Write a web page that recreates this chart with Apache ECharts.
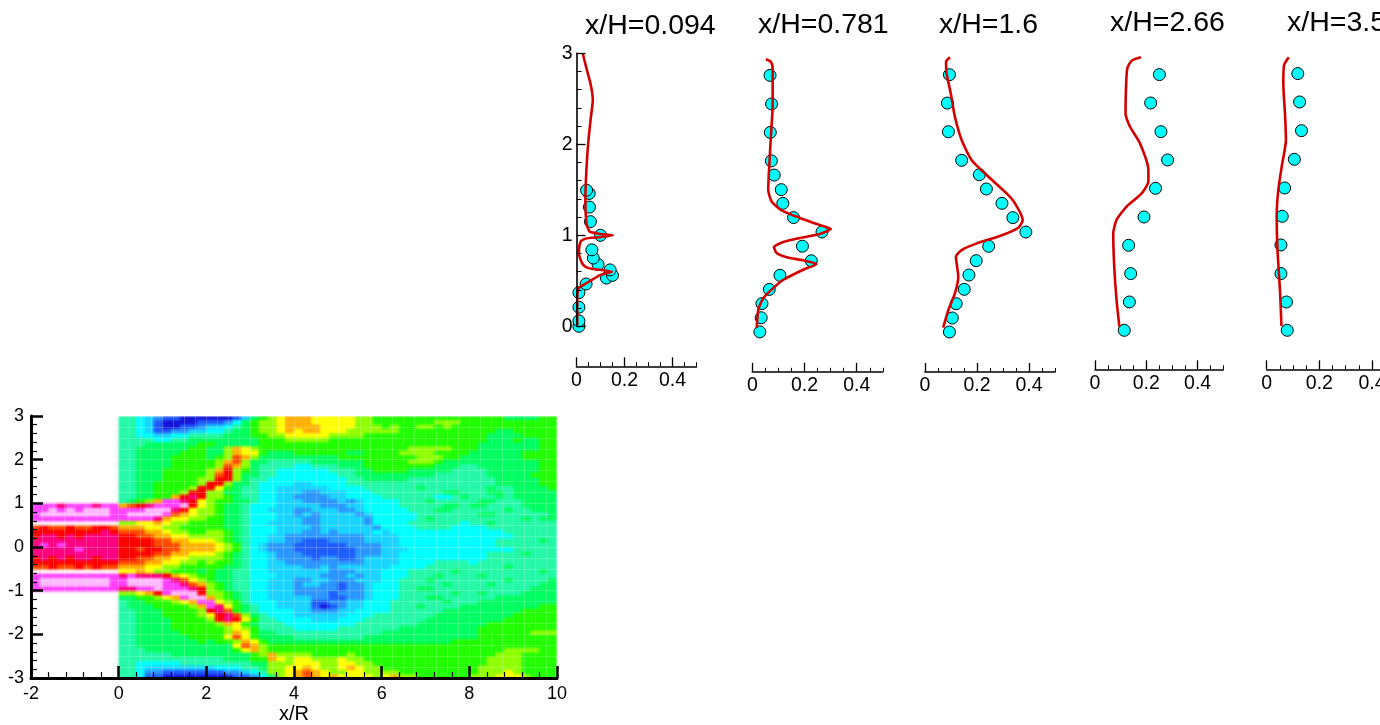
<!DOCTYPE html>
<html><head><meta charset="utf-8"><style>
html,body{margin:0;padding:0;background:#fff;overflow:hidden;width:1380px;height:725px}
#stage{position:relative;width:1380px;height:725px;overflow:hidden}
#fieldClip{position:absolute;left:31px;top:416px;width:526px;height:263px;overflow:hidden}
#field{width:526px;height:263px;filter:blur(1.3px)}
#c{position:absolute;left:0;top:0;width:1430px;height:725px}
</style>
<script src="https://cdn.jsdelivr.net/npm/echarts@6/dist/echarts.min.js"></script></head>
<body><div id="stage"><div id="fieldClip"><div id="field"></div></div><div id="c"></div></div>
<script>
// Contour field: hex level per cell, top row y=2.95 to bottom y=-2.95, 0.2 wide x 0.1 high.
const fieldRows = [
".......... 5543211000 000136789a aa99999887 7777777777 7777666677",
".......... 5543100001 112467889a aa99999887 7777778887 7777777777",
".......... 5543100112 334567889a aaa9999888 7877887877 7777777777",
".......... 5543112233 445667889a 9aa9998888 8877777777 7776677777",
".......... 5544334455 5566677889 9999888877 7777777777 7766667777",
".......... 5555445566 6666667778 8888777777 7777777777 7766676677",
".......... 5556666667 7666667777 7777777777 7777777777 7666666677",
".......... 5566666677 668a987777 7777777777 7778888877 7666666677",
".......... 5566666777 668a997666 7777776677 7788887777 6666667777",
".......... 5566667777 678ba86666 6666677777 7777888776 6666667777",
".......... 5566667777 78ab866555 5566666677 7778887666 6666666677",
".......... 5566667777 78ba865555 4455566677 7777776665 5666666677",
".......... 5566677777 8ac8765544 4444555667 7776666655 5566666677",
".......... 5566677777 8bc8665544 4444455666 6666665555 5566666777",
".......... 5566677778 8cc8655444 4444445566 6665555555 5556666677",
".......... 5566777778 cc86654444 3344445555 5555555555 5556666677",
".......... 556677778c c976554433 3333444455 5555655555 5565566667",
".......... 55667778cc 8866554433 3223334445 5555555665 5566566666",
".......... 556677acdc 8876554433 2222334444 5555554456 5556566666",
".......... 5678aeedc9 8776654433 3222232344 4455565555 5665556666",
"eeedeeedee abcdeeefc9 8766544433 3332223344 4455555665 6655556666",
"eefefefffe eeefffdc98 8766544333 2233322344 4445556655 5555655666",
"effffffffe effffeba98 8766544433 2323333234 4444555555 5665555556",
"eeeeeeeeee eeeeda9988 7766544433 3223333324 4444565555 5555556566",
".......... 8899a98877 7766544333 3223333324 4445555554 5565555555",
"bcbbcbbccb aaa9988777 7766544433 3323333332 4444555544 4455555555",
"ccccccccdc bbbaa98877 8876544433 3223233334 3444444444 4444555555",
"cddcdcdddd ccbbaa9988 8876544332 2222222233 3344444444 4444455555",
"dddddddddd ccccbbaa99 9876544332 2111222233 3344444444 4445555565",
"dededddddd ccccbbbaaa a987543222 1111112222 3344444444 4445555555",
"dddddedddd ccbccbbaaa a987543222 1111111222 3334444444 4444455555",
"dddddddddd ccccbbaa99 9876544322 2111111222 3344444444 4455556555",
"cdcdcddcdd ccbbaa9988 8876544322 2212211233 3344444444 4455555555",
"cccccccccc bbbaa99887 8776544332 2222222233 3344445555 4555555555",
"bbcbbcbcbb aaa9988777 7766544333 3223233333 3444455555 5555655555",
".......... 99a9887776 7665544333 3333222333 4445555565 5555555565",
"eeeeeeeeee dedddca987 7665544433 3332223233 4445556555 5655555555",
"effffffffe effffedb98 7665544333 2233222333 4455565555 5555655556",
"effffffffe effffeedba 8765544333 2332212234 4455555655 5565555566",
"eeeeeeeeee ddeefeeedc 8765544333 2222212234 4455665555 5555555666",
".......... 889acefffc 8876544333 2222122234 4455555565 5655556666",
".......... 667789aeff a876544333 3322112234 4455566555 5556666666",
".......... 56677789ae e987544433 3311223344 4555555655 5666666666",
".......... 566677778a ed97654433 3310123344 4555655556 6666666677",
".......... 5566677778 cdb7654444 3322233444 4555555666 6666667777",
".......... 5566677778 9cdb865444 3333334445 5555556666 6666677777",
".......... 5566667777 8cdc975544 4433344455 5555566666 6666777777",
".......... 5566667777 78a9765554 4444444555 5555666666 6677777777",
".......... 5566667777 7789875555 4444455555 5566666666 6777777777",
".......... 5566666777 778a976655 5555555555 6666666666 6777777888",
".......... 5566666677 779b976666 5555555566 6666666666 6777777777",
".......... 5566666667 6778a97666 6666666666 6666666677 7777777777",
".......... 5566666666 6669ba8777 7777777777 7777777777 7777777777",
".......... 5556666666 66679a8777 7777777777 7777777777 7777888877",
".......... 5555556666 6666678a88 8877778777 7777777777 7778887777",
".......... 5555555555 5566677a98 9988898877 7777777777 7788887777",
".......... 5544444555 5555566888 9998899887 7777777777 7788887777",
".......... 5543333333 3444556889 9a9889a988 7777777777 7888887777",
".......... 5542211111 1122345889 aba9889988 8877777777 7888987777",
".......... 5541100000 0001124689 aba9a99998 9a88777777 8889998777"
];
const levelColors = ["#1414d8","#1e5cff","#2a96ff","#19d4ff","#00ffff","#24f8a8","#00ff60","#20ff00","#90ff00","#ffff00","#ffb000","#ff4a00","#ff0000","#ff0080","#ff40ff","#ffb8ff"];

const titles = ["x/H=0.094","x/H=0.781","x/H=1.6","x/H=2.66","x/H=3.5"];

const dots1 = [[.01,0],[.01,.06],[.01,.21],[.01,.37],[.04,.465],[.125,.53],[.15,.56],[.14,.62],[.09,.68],[.07,.75],[.064,.84],[.10,1.0],[.058,1.15],[.054,1.31],[.053,1.46],[.042,1.495]];
const line1 = [[.026,3.0],[.04,2.85],[.058,2.67],[.068,2.49],[.06,2.30],[.05,2.05],[.042,1.755],[.037,1.39],[.042,1.13],[.055,1.04],[.10,1.015],[.152,1.0],[.10,.98],[.037,.963],[.017,.93],[.01,.80],[.024,.69],[.044,.645],[.08,.626],[.148,.60],[.10,.565],[.058,.50],[.01,.42],[.003,.29],[.003,.015]];
const dots2 = [[.029,.01],[.034,.165],[.037,.32],[.065,.476],[.106,.63],[.226,.79],[.192,.95],[.267,1.106],[.158,1.264],[.117,1.42],[.111,1.57],[.084,1.73],[.073,1.886],[.069,2.198],[.074,2.51],[.068,2.824]];
const line2 = [[.052,3.0],[.072,2.97],[.078,2.89],[.078,2.49],[.072,2.19],[.065,1.83],[.061,1.57],[.074,1.44],[.112,1.344],[.183,1.26],[.253,1.187],[.301,1.14],[.259,1.084],[.183,1.04],[.119,.996],[.083,.94],[.093,.875],[.132,.828],[.195,.795],[.246,.755],[.195,.692],[.119,.582],[.08,.49],[.042,.38],[.023,.253],[.017,.05]];
const dots3 = [[.094,0],[.105,.153],[.12,.309],[.151,.466],[.169,.622],[.197,.779],[.245,.936],[.388,1.092],[.338,1.249],[.296,1.405],[.236,1.562],[.209,1.718],[.141,1.875],[.09,2.187],[.086,2.5],[.094,2.81]];
const line3 = [[.096,3],[.081,2.95],[.083,2.825],[.099,2.607],[.115,2.35],[.141,2.097],[.179,1.878],[.237,1.714],[.314,1.514],[.346,1.405],[.376,1.223],[.359,1.139],[.288,1.048],[.199,.968],[.141,.895],[.119,.822],[.128,.604],[.115,.422],[.09,.24],[.07,.047]];
const dots4 = [[.114,0],[.134,.311],[.139,.623],[.131,.934],[.191,1.245],[.236,1.56],[.283,1.872],[.257,2.183],[.217,2.498],[.251,2.81]];
const line4 = [[.179,3],[.143,2.963],[.126,2.88],[.121,2.68],[.119,2.385],[.136,2.24],[.175,2.055],[.208,1.762],[.208,1.634],[.182,1.505],[.123,1.36],[.084,1.212],[.071,1.066],[.075,.70],[.084,.333],[.095,.04]];
const dots5 = [[.078,0],[.075,.311],[.054,.623],[.054,.938],[.059,1.253],[.068,1.564],[.105,1.879],[.132,2.194],[.125,2.509],[.118,2.821]];
const line5 = [[.084,3],[.066,2.915],[.063,2.714],[.07,2.348],[.073,2.092],[.057,1.799],[.044,1.542],[.038,1.249],[.041,.883],[.051,.407],[.056,.048]];

const panelDots = [dots1,dots2,dots3,dots4,dots5];
const panelLines = [line1,line2,line3,line4,line5];
const xLabelValues = [0,0.2,0.4];

// layout
const panelBox = [
 {left:576.5,width:120,top:53.3,height:273,offset:40,tl:585,tt:11.5},
 {left:752.3,width:130.5,top:59.3,height:273.5,offset:39,tl:758,tt:10.5},
 {left:925,width:130,top:57.3,height:274.7,offset:40,tl:939,tt:11},
 {left:1095,width:128.3,top:57.3,height:273,offset:39,tl:1110,tt:8.5},
 {left:1266.7,width:131.7,top:57.3,height:273,offset:39,tl:1287,tt:8.5}
];
const FONT = '"Liberation Sans",Arial,Helvetica,sans-serif';

const cleaned = fieldRows.map(r=>r.replace(/ /g,''));
const nRows = cleaned.length, nCols = 60;
const catX = Array.from({length:nCols},(_,i)=>String(i));
const catY = Array.from({length:nRows},(_,i)=>String(i));
const heat = [];
cleaned.forEach((row,r)=>{ for(let i=0;i<row.length && i<nCols;i++){ const ch=row[i]; if(ch!=='.') heat.push([i,nRows-1-r,parseInt(ch,16)]); } });

const fieldChart=echarts.init(document.getElementById('field'),null,{renderer:'canvas'});
fieldChart.setOption({
  animation:false,
  grid:{left:0,top:0,right:0,bottom:0},
  xAxis:{type:'category',data:catX,show:false},
  yAxis:{type:'category',data:catY,show:false},
  visualMap:{type:'continuous',show:false,seriesIndex:0,dimension:2,min:0,max:15,inRange:{color:levelColors}},
  series:[{type:'heatmap',data:heat,progressive:0,silent:true}]
});

const meshLine={show:true,lineStyle:{color:'rgba(255,255,255,0.2)',width:1,type:'solid'}};
const grids=[{left:31,top:416,width:526,height:263}];
const xAxes=[
 {type:'value',gridIndex:0,min:-2,max:10,interval:0.25,position:'bottom',axisLine:{show:false},axisTick:{show:false},axisLabel:{show:false},splitLine:meshLine},
 {type:'value',gridIndex:0,min:-2,max:10,interval:2,position:'bottom',z:6,
  axisLine:{show:true,onZero:false,lineStyle:{color:'#000',width:3}},
  axisTick:{show:true,inside:true,length:12,lineStyle:{color:'#000',width:2.5}},
  minorTick:{show:true,splitNumber:5,length:6,lineStyle:{color:'#000',width:1.2}},
  splitLine:{show:false},
  axisLabel:{show:true,color:'#000',fontSize:18,fontFamily:FONT,margin:7,showMinLabel:true,showMaxLabel:true},
  name:'x/R',nameLocation:'middle',nameGap:23,nameTextStyle:{color:'#000',fontSize:20,fontFamily:FONT}}
];
const yAxes=[
 {type:'value',gridIndex:0,min:-3,max:3,interval:0.25,position:'left',axisLine:{show:false},axisTick:{show:false},axisLabel:{show:false},splitLine:meshLine},
 {type:'value',gridIndex:0,min:-3,max:3,interval:1,position:'left',z:6,
  axisLine:{show:true,onZero:false,lineStyle:{color:'#000',width:3}},
  axisTick:{show:true,inside:true,length:12,lineStyle:{color:'#000',width:2.5}},
  minorTick:{show:true,splitNumber:5,length:6,lineStyle:{color:'#000',width:1.2}},
  splitLine:{show:false},
  axisLabel:{show:true,color:'#000',fontSize:18,fontFamily:FONT,margin:7,showMinLabel:true,showMaxLabel:true}}
];
const series=[];
const titleOpts=[];

panelBox.forEach((b,k)=>{
  const g=grids.length;
  grids.push({left:b.left,top:b.top,width:b.width,height:b.height});
  const xMain=xAxes.length;
  xAxes.push({type:'value',gridIndex:g,min:0,max:0.5,interval:0.05,position:'bottom',offset:b.offset,z:6,
    axisLine:{show:true,onZero:false,lineStyle:{color:'#000',width:1.6}},
    axisTick:{show:true,inside:true,length:4,lineStyle:{color:'#000',width:1}},
    splitLine:{show:false},axisLabel:{show:false}});
  xAxes.push({type:'value',gridIndex:g,min:0,max:0.5,position:'bottom',offset:b.offset,z:6,
    axisLine:{show:false,onZero:false},
    axisTick:{show:true,inside:true,length:9,customValues:xLabelValues,lineStyle:{color:'#000',width:1.3}},
    splitLine:{show:false},
    axisLabel:{show:true,customValues:xLabelValues,color:'#000',fontSize:19.5,fontFamily:FONT,margin:4,hideOverlap:false,
      formatter:v=>String(v)}});
  const yA=yAxes.length;
  yAxes.push(k===0?{type:'value',gridIndex:g,min:0,max:3,interval:1,position:'left',z:6,
    axisLine:{show:true,onZero:false,lineStyle:{color:'#000',width:1.6}},
    axisTick:{show:true,inside:true,length:9,lineStyle:{color:'#000',width:1.3}},
    minorTick:{show:true,splitNumber:5,length:5,lineStyle:{color:'#000',width:1}},
    splitLine:{show:false},
    axisLabel:{show:true,color:'#000',fontSize:19.5,fontFamily:FONT,margin:4}}
   :{type:'value',gridIndex:g,min:0,max:3,show:false});
  series.push({type:'scatter',xAxisIndex:xMain,yAxisIndex:yA,data:panelDots[k],symbol:'circle',symbolSize:12,clip:false,z:3,silent:true,
    itemStyle:{color:'#00ffff',borderColor:'#000',borderWidth:1,opacity:1}});
  series.push({type:'line',xAxisIndex:xMain,yAxisIndex:yA,data:panelLines[k],showSymbol:false,symbol:'none',smooth:0.2,clip:false,z:4,silent:true,
    lineStyle:{color:'#d40000',width:2.6}});
  titleOpts.push({text:titles[k],left:b.tl,top:b.tt,padding:0,textStyle:{fontSize:28.5,fontWeight:'normal',color:'#000',fontFamily:FONT}});
});

const chart=echarts.init(document.getElementById('c'),null,{renderer:'canvas'});
chart.setOption({
  animation:false,backgroundColor:'transparent',title:titleOpts,grid:grids,xAxis:xAxes,yAxis:yAxes,series:series,
  tooltip:{show:false}
});
</script></body></html>
